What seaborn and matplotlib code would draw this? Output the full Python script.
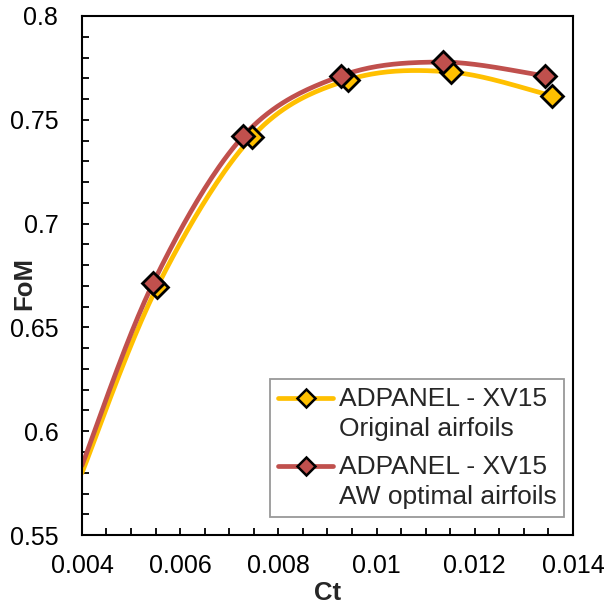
import numpy as np
import pandas as pd
import matplotlib
matplotlib.use("Agg")
import matplotlib.pyplot as plt
from matplotlib.lines import Line2D
from matplotlib.legend_handler import HandlerLine2D
import seaborn as sns

# ---- data ----
ct_orig = [0.0040, 0.00553, 0.00746, 0.00942, 0.01152, 0.01357]
fom_orig = [0.5799, 0.6695, 0.7417, 0.7692, 0.7730, 0.7615]
ct_aw = [0.0040, 0.00545, 0.00728, 0.00927, 0.01135, 0.01343]
fom_aw = [0.5835, 0.6714, 0.7420, 0.7711, 0.7778, 0.7711]
marker_from = 1  # first point of each series is a curve start without marker
labels = ["ADPANEL - XV15\nOriginal airfoils", "ADPANEL - XV15\nAW optimal airfoils"]
colors = ["#FFC000", "#C0504D"]
xticks = [0.004, 0.006, 0.008, 0.01, 0.012, 0.014]
xticklabels = ["0.004", "0.006", "0.008", "0.01", "0.012", "0.014"]
yticks = [0.55, 0.6, 0.65, 0.7, 0.75, 0.8]
yticklabels = ["0.55", "0.6", "0.65", "0.7", "0.75", "0.8"]

sns.set_theme(style="white")
plt.rcParams["font.family"] = ["Liberation Sans", "DejaVu Sans"]


def smooth(x, y, n=40):
    """Excel-like smoothed line (cubic Bezier, Catmull-Rom tangents)."""
    p = np.column_stack([x, y]).astype(float)
    pts = []
    for i in range(len(p) - 1):
        p0 = p[i - 1] if i > 0 else p[i]
        p1, p2 = p[i], p[i + 1]
        p3 = p[i + 2] if i + 2 < len(p) else p[i + 1]
        c1 = p1 + (p2 - p0) / 6.0
        c2 = p2 - (p3 - p1) / 6.0
        t = np.linspace(0, 1, n)[:, None]
        seg = ((1 - t) ** 3) * p1 + 3 * ((1 - t) ** 2) * t * c1 + 3 * (1 - t) * t ** 2 * c2 + t ** 3 * p2
        pts.append(seg if i == 0 else seg[1:])
    s = np.vstack(pts)
    return pd.DataFrame({"x": s[:, 0], "y": s[:, 1]})


class TopLineHandler(HandlerLine2D):
    """Place the legend handle at the first line of a two-line label."""
    def __init__(self, shift, **kw):
        super().__init__(**kw)
        self.shift = shift

    def create_artists(self, legend, orig_handle, xdescent, ydescent, width, height, fontsize, trans):
        return super().create_artists(legend, orig_handle, xdescent, ydescent - 2 * self.shift,
                                      width, height, fontsize, trans)


fig = plt.figure(figsize=(6.07, 6.08), dpi=100)
ax = fig.add_axes([0.135, 0.120, 0.809, 0.8537])

handles = []
for (cx, fy), col in zip([(ct_orig, fom_orig), (ct_aw, fom_aw)], colors):
    d = smooth(cx, fy)
    sns.lineplot(data=d, x="x", y="y", sort=False, estimator=None, color=col,
                 linewidth=3.4, ax=ax, zorder=2)
    m = pd.DataFrame({"x": cx[marker_from:], "y": fy[marker_from:]})
    ax.plot(m["x"], m["y"], linestyle="none", marker="D", markersize=11,
            markerfacecolor=col, markeredgecolor="black", markeredgewidth=2.0, zorder=3)
    handles.append(Line2D([], [], color=col, lw=3.4, marker="D", markersize=9.5,
                          markerfacecolor=col, markeredgecolor="black", markeredgewidth=1.8))

ax.set_xlim(0.004, 0.014)
ax.set_ylim(0.55, 0.8)
ax.set_xticks(xticks)
ax.set_xticklabels(xticklabels)
ax.set_yticks(yticks)
ax.set_yticklabels(yticklabels)
ax.xaxis.set_minor_locator(matplotlib.ticker.MultipleLocator(0.0005))
ax.yaxis.set_minor_locator(matplotlib.ticker.MultipleLocator(0.01))
ax.tick_params(which="both", direction="in", bottom=True, left=True, top=False, right=False,
               colors="black", width=1.3, length=5)
ax.tick_params(axis="y", which="major", labelsize=18, pad=17)
ax.tick_params(axis="x", which="major", labelsize=18, pad=14)
for s in ax.spines.values():
    s.set_color("black")
    s.set_linewidth(1.5)

ax.set_xlabel("Ct", fontsize=18.5, fontweight="bold")
ax.set_ylabel("FoM", fontsize=18.5, fontweight="bold")
ax.xaxis.set_label_coords(0.501, -0.088)
ax.yaxis.set_label_coords(-0.094, 0.484)

hmap = {h: TopLineHandler(shift=11.5) for h in handles}
leg = ax.legend(handles, labels, loc="lower right", bbox_to_anchor=(0.982, 0.035),
                fontsize=19, frameon=True, fancybox=False, handlelength=2.1,
                handletextpad=0.2, labelspacing=0.55, borderpad=0.3, borderaxespad=0,
                handler_map=hmap)
for t in leg.get_texts():
    t.set_linespacing(1.3)
leg.get_frame().set_edgecolor("#7f7f7f")
leg.get_frame().set_linewidth(1.3)

fig.savefig("out.png", dpi=100)
